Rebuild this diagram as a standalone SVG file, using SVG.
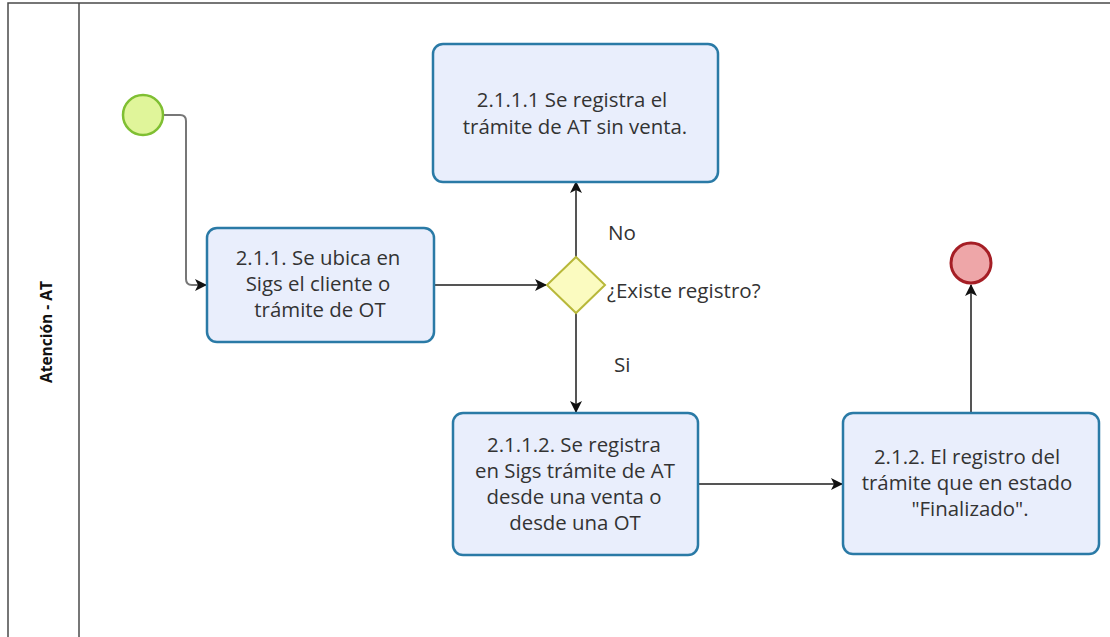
<svg xmlns="http://www.w3.org/2000/svg" width="1110" height="637" viewBox="0 0 1110 637">
<style>
.task{fill:#e9eefc;stroke:#2a7aa6;stroke-width:2.5}
.t{font-family:"Open Sans","Noto Sans",sans-serif;font-size:20.4px;fill:#333;text-anchor:middle}
.lbl{font-family:"Open Sans","Noto Sans",sans-serif;font-size:20.6px;fill:#333}
.flow{fill:none;stroke:#555;stroke-width:2;marker-end:url(#arr)}
.pool{fill:none;stroke:#4a4a4a;stroke-width:1.5}
</style>
<defs>
<marker id="arr" viewBox="0 0 12 12" refX="11" refY="6" markerWidth="12" markerHeight="12" markerUnits="userSpaceOnUse" orient="auto">
<path d="M0,0 L12,6 L0,12 L3,6 Z" fill="#111"/>
</marker>
</defs>
<rect width="1110" height="637" fill="#fff"/>
<g id="pool">
<path class="pool" d="M8,637 V3 H1110"/>
<line class="pool" x1="79" y1="3" x2="79" y2="637"/>
<text transform="translate(52,332) rotate(-90)" text-anchor="middle" font-family="'Open Sans','Noto Sans',sans-serif" font-size="15.5" font-weight="bold" fill="#111">Atención - AT</text>
</g>
<g id="connectors">
<path d="M164,115 H180 Q186,115 186,121 V279 Q186,285 192,285 H206" fill="none" stroke="#777" stroke-width="2" marker-end="url(#arr)"/>
<path class="flow" d="M434,285 H546"/>
<path class="flow" d="M576,257 V182"/>
<path class="flow" d="M576,313 V412"/>
<path class="flow" d="M698,484 H842"/>
<path class="flow" d="M971,413 V285"/>
<text class="lbl" x="608" y="240">No</text>
<text class="lbl" x="607" y="298">¿Existe registro?</text>
<text class="lbl" x="614" y="372">Si</text>
</g>
<g id="start">
<circle cx="143" cy="115" r="20" fill="#e0f59a" stroke="#7fbf32" stroke-width="2.5"/>
</g>
<g id="task1">
<rect class="task" x="207" y="228" width="227" height="114" rx="10"/>
<text class="t" x="318" y="265">2.1.1. Se ubica en</text>
<text class="t" x="318" y="291">Sigs el cliente o</text>
<text class="t" x="320" y="317">trámite de OT</text>
</g>
<g id="task2111">
<rect class="task" x="433" y="44" width="285" height="138" rx="10"/>
<text class="t" x="572" y="107">2.1.1.1 Se registra el</text>
<text class="t" x="575" y="134">trámite de AT sin venta.</text>
</g>
<g id="gateway">
<polygon points="576,257 605,285 576,313 547,285" fill="#fbfbc0" stroke="#b8b83a" stroke-width="2"/>
</g>
<g id="task2112">
<rect class="task" x="453" y="413" width="245" height="142" rx="10"/>
<text class="t" x="574" y="452">2.1.1.2. Se registra</text>
<text class="t" x="575" y="478">en Sigs trámite de AT</text>
<text class="t" x="574" y="504">desde una venta o</text>
<text class="t" x="575" y="530">desde una OT</text>
</g>
<g id="task212">
<rect class="task" x="843" y="413" width="256" height="141" rx="10"/>
<text class="t" x="967" y="464">2.1.2. El registro del</text>
<text class="t" x="967" y="490">trámite que en estado</text>
<text class="t" x="970" y="516">"Finalizado".</text>
</g>
<g id="end">
<circle cx="971" cy="263" r="20" fill="#eea6a8" stroke="#a51e25" stroke-width="3"/>
</g>
</svg>
